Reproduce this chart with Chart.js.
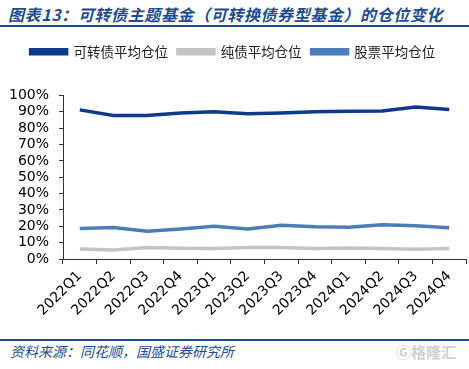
<!DOCTYPE html>
<html>
<head>
<meta charset="utf-8">
<script src="https://cdn.jsdelivr.net/npm/chart.js@4"></script>
<style>
    body { margin: 0; background: #fff; width: 469px; height: 369px; position: relative; overflow: hidden; }
    .title {
        position: absolute; left: 8px; top: 2px;
        font: italic bold 16px "Noto Sans CJK SC", sans-serif;
        color: #1e4c92; letter-spacing: 0.6px; white-space: nowrap;
    }
    .rule { position: absolute; left: 0; width: 469px; height: 2px; background: #1e4c92; }
    .source {
        position: absolute; left: 10px; top: 341px;
        font: italic 14px "Noto Sans CJK SC", sans-serif;
        color: #1e4c92; white-space: nowrap;
    }
    .mark {
        position: absolute; left: 396px; top: 341px;
        font: bold 15px "Noto Sans CJK SC", sans-serif;
        color: #d0d0d0; white-space: nowrap;
    }
    #chart { position: absolute; left: 0; top: 30px; }
</style>
</head>
<body>
<div class="title">图表13：可转债主题基金（可转换债券型基金）的仓位变化</div>
<div class="rule" style="top:25px"></div>
<canvas id="chart" width="469" height="305"></canvas>
<div class="rule" style="top:339px"></div>
<div class="source">资料来源：同花顺，国盛证券研究所</div>
<div class="mark">Ⓖ格隆汇</div>
<script>
const quarters = ['2022Q1', '2022Q2', '2022Q3', '2022Q4', '2023Q1', '2023Q2', '2023Q3', '2023Q4', '2024Q1', '2024Q2', '2024Q3', '2024Q4'];
const convertiblePos = [91.2, 87.8, 87.8, 89.3, 90.0, 88.8, 89.3, 90.0, 90.4, 90.5, 93.0, 91.5];
const bondPos = [6.1, 5.5, 7.0, 6.5, 6.4, 7.0, 7.0, 6.4, 6.7, 6.4, 6.0, 6.4];
const stockPos = [18.6, 19.3, 17.0, 18.4, 20.0, 18.4, 20.6, 19.7, 19.4, 20.9, 20.4, 19.1];

const seriesNames = ['可转债平均仓位', '纯债平均仓位', '股票平均仓位'];
const seriesColors = ['#0d3a8a', '#c4c4c4', '#4a7dba'];

const tickFont = { size: 14, family: "'DejaVu Sans', sans-serif" };

const legendGap = {
    id: 'legendGap',
    beforeInit(chart) {
        const fit = chart.legend.fit;
        chart.legend.fit = function () {
            fit.bind(chart.legend)();
            this.height += 27;
        };
    }
};

new Chart(document.getElementById('chart'), {
    type: 'line',
    data: {
        labels: quarters,
        datasets: [convertiblePos, bondPos, stockPos].map((vals, i) => ({
            label: seriesNames[i],
            data: vals,
            borderColor: seriesColors[i],
            backgroundColor: seriesColors[i],
            borderWidth: 3.5,
            pointRadius: 0,
            tension: 0,
            fill: false
        }))
    },
    options: {
        responsive: false,
        animation: false,
        layout: { padding: { top: 5, right: 3, left: 0, bottom: 0 } },
        scales: {
            x: {
                offset: true,
                grid: { offset: true, drawOnChartArea: false, drawTicks: true, tickLength: 5, color: '#333' },
                border: { color: '#333', width: 1 },
                ticks: { font: tickFont, color: '#000', maxRotation: 45, minRotation: 45, padding: 4, autoSkip: false },
                afterFit(scale) { scale.height = 76; }
            },
            y: {
                min: 0,
                max: 100,
                grid: { drawOnChartArea: false, drawTicks: true, tickLength: 4, color: '#333' },
                border: { color: '#333', width: 1 },
                ticks: {
                    stepSize: 10,
                    autoSkip: false,
                    font: { size: 14, family: "'DejaVu Sans', sans-serif" },
                    color: '#000',
                    padding: 10,
                    callback: v => v + '%'
                },
                afterFit(scale) { scale.width = 63; }
            }
        },
        plugins: {
            legend: {
                display: true,
                labels: {
                    boxWidth: 36,
                    boxHeight: 4,
                    padding: 10,
                    color: '#222',
                    font: { size: 13.5, family: "'Noto Sans CJK SC', sans-serif" }
                }
            },
            tooltip: { enabled: false }
        }
    },
    plugins: [legendGap]
});
</script>
</body>
</html>
